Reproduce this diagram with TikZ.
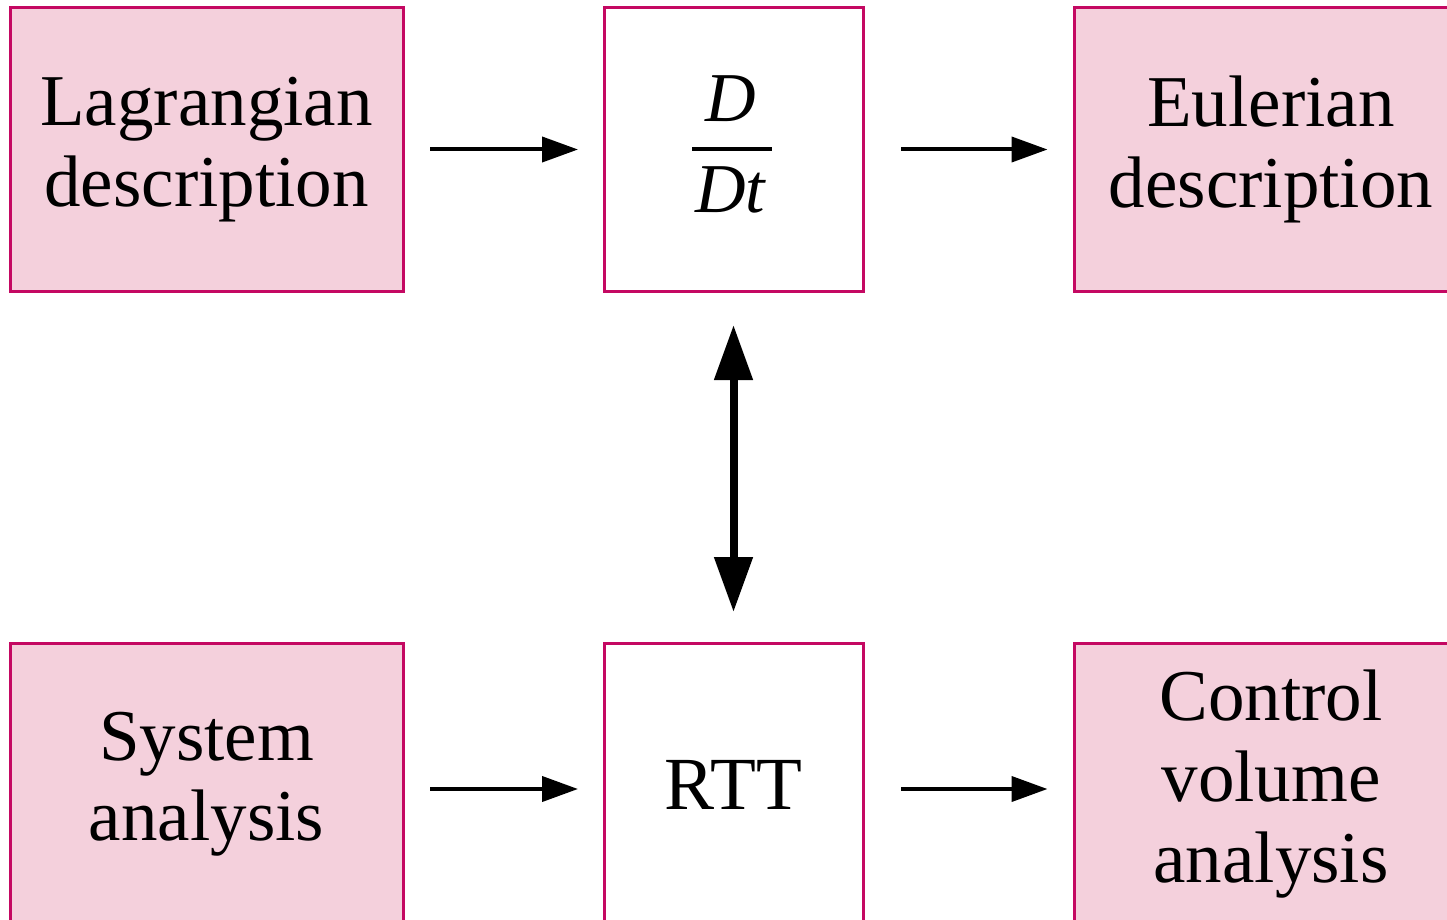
\documentclass[tikz,border=0pt]{standalone}
\usepackage{fontspec}
\setmainfont{Liberation Serif}
\usetikzlibrary{arrows.meta,calc}
\definecolor{boxborder}{RGB}{196,8,98}
\definecolor{boxfill}{RGB}{244,208,220}
\begin{document}
\begin{tikzpicture}[x=1pt,y=1pt,
  pinkbox/.style={draw=boxborder,fill=boxfill,line width=3pt,minimum width=393pt,minimum height=283pt,outer sep=0pt,inner sep=0pt,align=center,font=\fontsize{73}{81}\selectfont},
  whitebox/.style={pinkbox,fill=white,minimum width=259pt},
  thinarrow/.style={line width=4pt,-{Triangle[length=36pt,width=25pt]}},
  thickarrow/.style={line width=8pt,{Triangle[length=55pt,width=37pt]}-{Triangle[length=55pt,width=37pt]}},
  fractext/.style={font=\fontsize{70}{70}\selectfont\itshape,inner sep=0pt,anchor=base}]
\useasboundingbox (0,0) rectangle (1447,-920);
\clip (0,0) rectangle (1447,-920);
\node[pinkbox] (lag) at (206.5,-149.5) {Lagrangian\\description};
\node[whitebox] (ddt) at (733.5,-149.5) {};
\node[fractext] (num) at (731,-122) {D};
\node[fractext] (den) at (730,-212) {Dt};
\draw[line width=4pt] ($(ddt.center)+(-41.5,0.5)$) -- ($(ddt.center)+(38.5,0.5)$);
\node[pinkbox] (eul) at (1271,-149.5) {Eulerian\\description};
\node[pinkbox,font=\fontsize{73}{80}\selectfont] (sys) at (206.5,-784.5) {System\\analysis};
\node[whitebox,font=\fontsize{75}{75}\selectfont] (rtt) at (733.5,-784.5) {RTT};
\node[pinkbox,font=\fontsize{73}{81}\selectfont] (cv) at (1271,-784.5) {Control\\volume\\analysis};
\draw[thinarrow,shorten <=27pt,shorten >=26pt] (lag.east) -- (ddt.west);
\draw[thinarrow,shorten <=38pt,shorten >=27pt] (ddt.east) -- (eul.west);
\draw[thinarrow,shorten <=27pt,shorten >=26pt] ($(sys.east)+(0,-4.5)$) -- ($(rtt.west)+(0,-4.5)$);
\draw[thinarrow,shorten <=38pt,shorten >=27pt] ($(rtt.east)+(0,-4.5)$) -- ($(cv.west)+(0,-4.5)$);
\draw[thickarrow,shorten <=34pt,shorten >=31pt] (ddt.south) -- (rtt.north);
\end{tikzpicture}
\end{document}
